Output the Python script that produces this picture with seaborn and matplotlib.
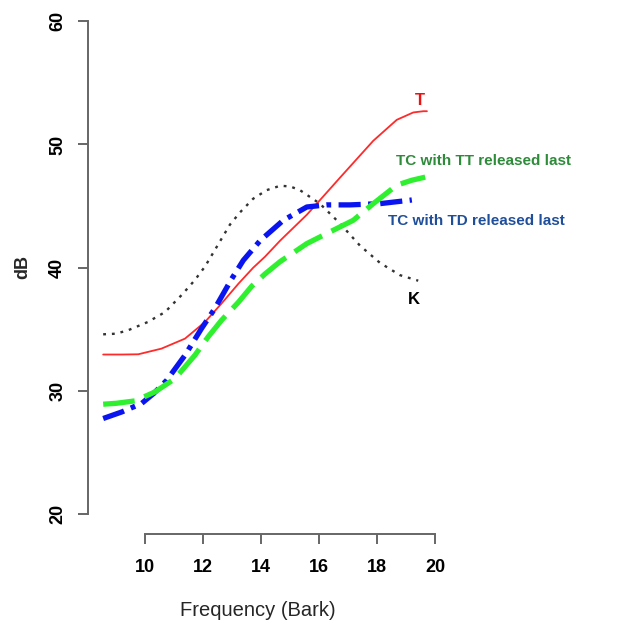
import matplotlib
matplotlib.use("Agg")
import matplotlib.pyplot as plt
import seaborn as sns

sns.set_theme(style="white")
plt.rcParams["font.family"] = ["Liberation Sans", "DejaVu Sans"]

# Data (Frequency in Bark, level in dB)
k_bark = [8.56, 9.0, 9.42, 10.1, 10.69, 11.27, 11.72, 12.07, 12.4, 12.93, 13.28, 13.73, 14.2, 14.66, 15.0, 15.34, 16.03, 16.72, 17.41, 18.1, 18.79, 19.42]
k_db =   [34.6, 34.65, 34.93, 35.6, 36.4, 37.8, 39.0, 40.1, 41.4, 43.5, 44.5, 45.6, 46.3, 46.65, 46.6, 46.3, 45.2, 43.6, 41.8, 40.4, 39.4, 38.95]

t_bark = [8.56, 9.2, 9.77, 10.57, 11.38, 12.07, 12.64, 13.22, 13.73, 14.14, 14.66, 15.58, 16.0, 16.72, 17.87, 18.68, 19.25, 19.6, 19.72]
t_db =   [32.96, 32.96, 32.98, 33.44, 34.25, 35.6, 37.1, 38.7, 40.0, 40.9, 42.2, 44.3, 45.4, 47.3, 50.3, 52.0, 52.6, 52.7, 52.7]

td_bark = [8.56, 9.2, 9.89, 10.3, 10.75, 11.38, 11.95, 12.41, 12.99, 13.39, 13.97, 14.77, 15.58, 16.26, 17.07, 18.1, 19.14, 19.2]
td_db =   [27.77, 28.3, 29.0, 29.8, 30.87, 32.9, 35.07, 36.7, 39.1, 40.6, 42.2, 43.85, 44.93, 45.1, 45.1, 45.2, 45.48, 45.5]

tt_bark = [8.56, 9.0, 9.66, 10.34, 11.03, 11.72, 12.18, 12.64, 13.22, 13.68, 14.14, 14.66, 15.58, 16.49, 17.18, 17.87, 18.68, 19.2, 19.66]
tt_db =   [28.93, 29.0, 29.2, 29.92, 31.0, 32.9, 34.4, 35.74, 37.2, 38.5, 39.5, 40.5, 41.96, 43.04, 43.85, 45.2, 46.7, 47.1, 47.35]

xticks = [10, 12, 14, 16, 18, 20]
yticks = [20, 30, 40, 50, 60]

fig = plt.figure(figsize=(6.18, 6.25), dpi=100)
ax = fig.add_axes([0.143, 0.1456, 0.568, 0.852])

sns.lineplot(x=k_bark, y=k_db, ax=ax, color="#333333", lw=1.7, linestyle=(0, (1.2, 2.5)), sort=False)
sns.lineplot(x=t_bark, y=t_db, ax=ax, color="#ff2a2a", lw=1.3, sort=False)
sns.lineplot(x=td_bark, y=td_db, ax=ax, color="#0a14f0", lw=3.8, linestyle=(0, (4.2, 1.4, 0.9, 1.4)), sort=False)
sns.lineplot(x=tt_bark, y=tt_db, ax=ax, color="#2ef02e", lw=3.8, linestyle=(0, (6.0, 2.0)), sort=False)

ax.set_xlim(8.05, 20.15)
ax.set_ylim(18.4, 61.6)
ax.set_xticks(xticks)
ax.set_yticks(yticks)
ax.set_xticklabels([str(v) for v in xticks], fontsize=13, fontweight="bold")
ax.set_yticklabels([str(v) for v in yticks], fontsize=13, fontweight="bold", rotation=90, va="center")

for s in ["top", "right"]:
    ax.spines[s].set_visible(False)
axcol = "#666666"
ax.spines["left"].set_bounds(20, 60)
ax.spines["bottom"].set_bounds(10, 20)
for s in ["left", "bottom"]:
    ax.spines[s].set_color(axcol)
    ax.spines[s].set_linewidth(1.4)
ax.tick_params(axis="both", which="both", direction="out", length=7, width=1.4, color=axcol, labelcolor="black")
ax.tick_params(axis="x", pad=11, bottom=True)
ax.tick_params(axis="y", pad=9, left=True)
ax.grid(False)

ax.set_xlabel("Frequency (Bark)", fontsize=14.5)
ax.xaxis.set_label_coords(0.484, -0.144)
ax.xaxis.label.set_va("center")
ax.set_ylabel("dB", fontsize=13, fontweight="bold")
ax.yaxis.set_label_coords(-0.187, 0.501)
ax.yaxis.label.set_va("center")

ax.text(19.48, 53.6, "T", color="#ee1111", fontsize=12, fontweight="bold", ha="center", va="center")
ax.text(18.66, 48.7, "TC with TT released last", color="#2e8b3a", fontsize=11, fontweight="bold", ha="left", va="center")
ax.text(18.38, 43.77, "TC with TD released last", color="#1f4e9a", fontsize=11, fontweight="bold", ha="left", va="center")
ax.text(19.28, 37.4, "K", color="black", fontsize=12, fontweight="bold", ha="center", va="center")

fig.savefig("out.png", dpi=100, facecolor="white")
